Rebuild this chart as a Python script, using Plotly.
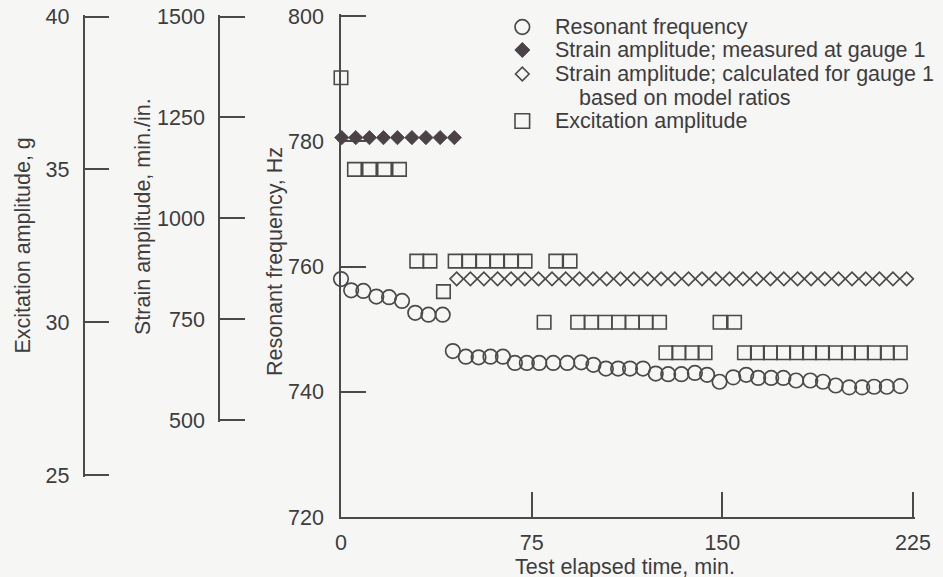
import plotly.graph_objects as go

W, H = 943, 577

# ---------------- data ----------------
res_time = [0, 4.0, 8.8, 13.9, 18.9, 24.0, 29.2, 34.4, 40.0,
            44.0, 49.1, 54.1, 58.8, 63.7, 68.4, 73.1, 78.0, 83.5, 89.0, 94.5,
            99.3, 104.2, 109.0, 113.7, 118.8, 123.8, 128.7, 133.9, 139.2, 144.0,
            148.9, 154.3, 159.4, 164.1, 169.2, 174.0, 179.0, 184.6, 189.6, 194.6,
            199.9, 205.0, 209.7, 214.7, 220.0]
res_freq = [758.0, 756.2, 756.1, 755.2, 755.1, 754.5, 752.6, 752.3, 752.3,
            746.5, 745.6, 745.5, 745.6, 745.6, 744.6, 744.6, 744.6, 744.6, 744.6, 744.7,
            744.3, 743.7, 743.7, 743.7, 743.7, 742.9, 742.8, 742.8, 743.0, 742.7,
            741.6, 742.3, 742.7, 742.2, 742.2, 742.2, 741.8, 741.8, 741.6, 741.0,
            740.7, 740.7, 740.8, 740.8, 740.9]

strain_meas_time = [0.3, 5.8, 11.2, 16.7, 22.2, 27.9, 33.4, 39.0, 44.6]
strain_meas_val = [1200, 1200, 1200, 1200, 1200, 1200, 1200, 1200, 1200]

strain_calc_time = [45.5, 50.9, 56.2, 61.6, 66.9, 72.3, 77.7, 83.0, 88.4, 93.8,
                    99.1, 104.5, 109.9, 115.2, 120.6, 125.9, 131.3, 136.7, 142.0, 147.4,
                    152.8, 158.1, 163.5, 168.9, 174.2, 179.6, 184.9, 190.3, 195.7, 201.0,
                    206.4, 211.8, 217.1, 222.5]
strain_calc_val = [850] * 34

exc_time = [0, 5.3, 11.2, 17.1, 23.0, 29.8, 35.0, 40.3,
            44.9, 50.4, 55.9, 61.4, 66.9, 72.4, 79.9, 84.5, 90.1,
            93.1, 98.5, 103.9, 109.2, 114.6, 119.9, 125.3,
            127.8, 132.9, 138.1, 143.2, 149.1, 154.8,
            158.7, 163.8, 168.9, 174.1, 179.2, 184.3, 189.4, 194.5, 199.6, 204.7,
            209.8, 214.9, 220.0]
exc_val = [38, 35, 35, 35, 35, 32, 32, 31,
           32, 32, 32, 32, 32, 32, 30, 32, 32,
           30, 30, 30, 30, 30, 30, 30,
           29, 29, 29, 29, 30, 30,
           29, 29, 29, 29, 29, 29, 29, 29, 29, 29,
           29, 29, 29]

x_ticks = [0, 75, 150, 225]
freq_ticks = [720, 740, 760, 780, 800]
strain_ticks = [500, 750, 1000, 1250, 1500]
exc_ticks = [25, 30, 35, 40]

series_names = ["Resonant frequency",
                "Strain amplitude; measured at gauge 1",
                "Strain amplitude; calculated for gauge 1<br>based on model ratios",
                "Excitation amplitude"]

# ---------------- styling ----------------
FONT = "Liberation Sans, Arial, Helvetica, sans-serif"
FS = 21.5
AX = "#4a4a4a"
TXT = "#3d3d3d"
DARK = "#4a4246"
BG = "#f6f6f5"
CLEAR = "rgba(0,0,0,0)"
EXT = 1.6  # px of axis beyond the end ticks so plotly keeps the end ticks


def px_x(p):
    return p / W


def px_y(p):
    return 1 - p / H


def y_axis_geom(v_lo, v_hi, p_lo, p_hi, ext_lo=EXT, ext_hi=EXT):
    """range/domain so that v_lo sits at pixel row p_lo and v_hi at p_hi."""
    k = (p_lo - p_hi) / (v_hi - v_lo)
    rng = [v_lo - ext_lo / k, v_hi + ext_hi / k]
    dom = [px_y(p_lo + ext_lo), px_y(p_hi - ext_hi)]
    return rng, dom


def x_axis_geom(v_lo, v_hi, p_lo, p_hi, ext_lo=0, ext_hi=EXT):
    k = (p_hi - p_lo) / (v_hi - v_lo)
    rng = [v_lo - ext_lo / k, v_hi + ext_hi / k]
    dom = [px_x(p_lo - ext_lo), px_x(p_hi + ext_hi)]
    return rng, dom


x_rng, x_dom = x_axis_geom(x_ticks[0], x_ticks[-1], 341, 913)
f_rng, f_dom = y_axis_geom(freq_ticks[0], freq_ticks[-1], 517, 16, ext_lo=0)
e_rng, e_dom = y_axis_geom(exc_ticks[0], exc_ticks[-1], 475, 16.6)
s_rng, s_dom = y_axis_geom(strain_ticks[0], strain_ticks[-1], 420, 16.6)

fig = go.Figure()
fig.add_trace(go.Scatter(x=res_time, y=res_freq, mode="markers", name=series_names[0],
                         xaxis="x", yaxis="y", cliponaxis=False, showlegend=False,
                         marker=dict(symbol="circle-open", size=14.5, color=AX,
                                     line=dict(width=1.7, color=AX))))
fig.add_trace(go.Scatter(x=strain_meas_time, y=strain_meas_val, mode="markers",
                         name=series_names[1], xaxis="x", yaxis="y3", cliponaxis=False,
                         showlegend=False,
                         marker=dict(symbol="diamond", size=11, color=DARK,
                                     line=dict(width=0.8, color=DARK))))
fig.add_trace(go.Scatter(x=strain_calc_time, y=strain_calc_val, mode="markers",
                         name=series_names[2], xaxis="x", yaxis="y3", cliponaxis=False,
                         showlegend=False,
                         marker=dict(symbol="diamond-open", size=10.3, color=AX,
                                     line=dict(width=1.6, color=AX))))
fig.add_trace(go.Scatter(x=exc_time, y=exc_val, mode="markers", name=series_names[3],
                         xaxis="x", yaxis="y2", cliponaxis=False, showlegend=False,
                         marker=dict(symbol="square-open", size=13.5, color=AX,
                                     line=dict(width=1.6, color=AX))))

tickfont = dict(family=FONT, size=FS, color=TXT)
common = dict(showgrid=False, zeroline=False, showline=True, linecolor=AX, linewidth=1.5,
              ticks="inside", tickcolor=AX, tickwidth=1.5, ticklen=25, tickfont=tickfont,
              tickangle=0)

fig.update_layout(
    width=W, height=H, margin=dict(l=0, r=0, t=0, b=0, autoexpand=False),
    paper_bgcolor=BG, plot_bgcolor=CLEAR, showlegend=False,
    xaxis=dict(domain=x_dom, range=x_rng, tickmode="array", tickvals=x_ticks,
               ticktext=[str(v) for v in x_ticks],
               anchor="y", ticklabelstandoff=5, **common),
    yaxis=dict(domain=f_dom, range=f_rng, tickvals=freq_ticks,
               anchor="x", ticklabelstandoff=11, **common),
    yaxis2=dict(domain=e_dom, range=e_rng, tickvals=exc_ticks,
                anchor="free", position=px_x(83.5), side="left", ticklabelstandoff=9,
                **common),
    yaxis3=dict(domain=s_dom, range=s_rng, tickvals=strain_ticks,
                anchor="free", position=px_x(219), side="left", ticklabelstandoff=9,
                **common),
)

annfont = dict(family=FONT, size=FS, color=TXT)
titles = [
    ("Excitation amplitude, g", 22.5, 246, -90),
    ("Strain amplitude, min./in.", 143, 217, -90),
    ("Resonant frequency, Hz", 275, 262, -90),
    ("Test elapsed time, min.", 625, 567, 0),
]
for text, xp, yp, ang in titles:
    fig.add_annotation(text=text, x=px_x(xp), y=px_y(yp), xref="paper", yref="paper",
                       xanchor="center", yanchor="middle", textangle=ang,
                       showarrow=False, font=annfont)

# ---------------- legend (drawn manually to match line spacing) ----------------
LX = 522.3
rows = [27, 50, 74, 121]
text_rows = [(series_names[0], 553, 27), (series_names[1].split("<br>")[0], 553, 50),
             (series_names[2].split("<br>")[0], 553, 74),
             (series_names[2].split("<br>")[1], 577, 97.5),
             (series_names[3], 553, 121)]
for text, xp, yp in text_rows:
    fig.add_annotation(text=text, x=px_x(xp), y=px_y(yp), xref="paper", yref="paper",
                       xanchor="left", yanchor="middle", showarrow=False, font=annfont)

r = 7.3
fig.add_shape(type="circle", xref="paper", yref="paper",
              x0=px_x(LX - r), x1=px_x(LX + r), y0=px_y(rows[0] + r), y1=px_y(rows[0] - r),
              line=dict(color=AX, width=1.7), fillcolor=CLEAR)


def diamond_path(cx, cy, h):
    return (f"M {px_x(cx - h)} {px_y(cy)} L {px_x(cx)} {px_y(cy - h)} "
            f"L {px_x(cx + h)} {px_y(cy)} L {px_x(cx)} {px_y(cy + h)} Z")


fig.add_shape(type="path", xref="paper", yref="paper", path=diamond_path(LX, rows[1], 7.5),
              line=dict(color=DARK, width=1), fillcolor=DARK)
fig.add_shape(type="path", xref="paper", yref="paper", path=diamond_path(LX, rows[2], 6.8),
              line=dict(color=AX, width=1.6), fillcolor=CLEAR)
s = 7.3
fig.add_shape(type="rect", xref="paper", yref="paper",
              x0=px_x(LX - s), x1=px_x(LX + s), y0=px_y(rows[3] + s), y1=px_y(rows[3] - s),
              line=dict(color=AX, width=1.6), fillcolor=CLEAR)

fig.write_html("out.html")
